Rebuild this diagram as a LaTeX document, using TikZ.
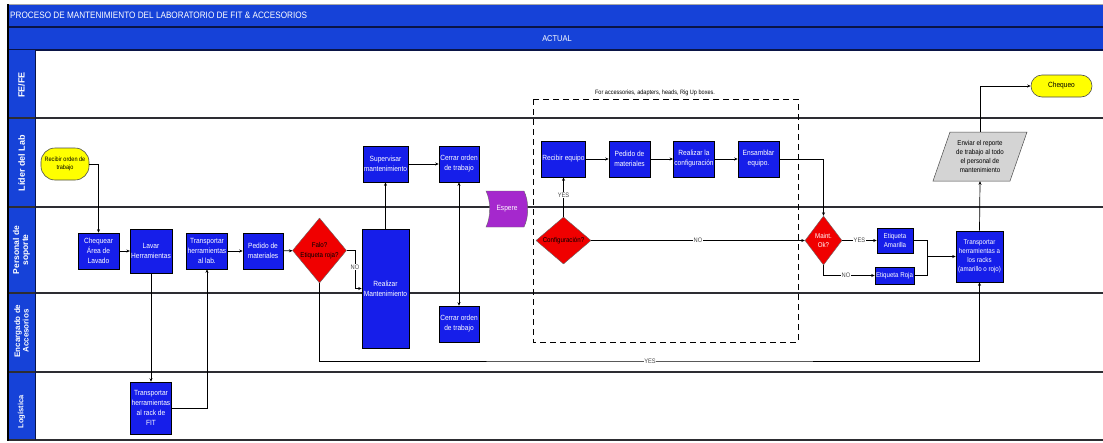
\documentclass[tikz,border=0pt]{standalone}
\usepackage{fontspec}
\setmainfont{Liberation Sans}
\newfontfamily\narrowsf[FakeStretch=0.88]{Liberation Sans}
\usetikzlibrary{arrows.meta,shapes.geometric}
\definecolor{barblue}{RGB}{22,66,216}
\definecolor{boxblue}{RGB}{22,30,234}
\definecolor{lanedark}{RGB}{45,45,50}
\definecolor{navyline}{RGB}{10,20,70}
\definecolor{decred}{RGB}{240,0,0}
\definecolor{termyellow}{RGB}{255,255,0}
\definecolor{waitpurple}{RGB}{165,40,205}
\definecolor{docgray}{RGB}{212,212,212}
\definecolor{lblgray}{RGB}{70,70,70}

\tikzset{
  box/.style={draw=black, line width=0.6pt, fill=boxblue, text=white,
    align=center, inner sep=1pt, font=\narrowsf\fontsize{7.5}{10}\selectfont},
  decision/.style={diamond, draw=black!60, line width=0.4pt, fill=decred,
    align=center, inner sep=0pt, font=\narrowsf\fontsize{7}{9.5}\selectfont},
  term/.style={draw=black!70, line width=0.6pt, fill=termyellow,
    align=center, inner sep=1pt, font=\narrowsf\fontsize{6.3}{8}\selectfont},
  conn/.style={draw=black, line width=0.7pt, -{Stealth[length=3.5pt,width=3pt]}},
  connboth/.style={draw=black, line width=0.7pt,
    {Stealth[length=3.5pt,width=3pt]}-{Stealth[length=3.5pt,width=3pt]}},
  plain/.style={draw=black, line width=0.7pt},
  lbl/.style={fill=white, inner sep=0.5pt, text=lblgray,
    font=\narrowsf\fontsize{6.5}{7.5}\selectfont},
  lanelabel/.style={rotate=90, text=white, align=center,
    font=\bfseries\fontsize{8.5}{9}\selectfont},
  laneline/.style={draw=lanedark, line width=1.3pt}
}

\begin{document}
\begin{tikzpicture}[x=1pt,y=-1pt]
\useasboundingbox (0,0) rectangle (1103,442);
\fill[white] (0,0) rectangle (1103,442);

% ---------- header bars ----------
\fill[barblue] (8,4) rectangle (1103,50);
\draw[gray!70, line width=0.8pt] (8,4) -- (1103,4);
\draw[navyline, line width=1.3pt] (8,27) -- (1103,27);
\draw[navyline, line width=1.3pt] (8,50) -- (1103,50);
\node[anchor=west, text=white, inner sep=0pt,
  font=\narrowsf\fontsize{9.3}{11}\selectfont] (title) at (10,15.5)
  {PROCESO DE MANTENIMIENTO DEL LABORATORIO DE FIT \& ACCESORIOS};
\node[text=white, inner sep=0pt, font=\narrowsf\fontsize{8.5}{10}\selectfont]
  (actual) at (557,39) {ACTUAL};

% ---------- swimlanes ----------
\fill[barblue] (8,50) rectangle (35,440);
\draw[laneline] (8,118) -- (1103,118);
\draw[laneline] (8,207) -- (1103,207);
\draw[laneline] (8,293) -- (1103,293);
\draw[laneline] (8,372) -- (1103,372);
\draw[laneline] (8,440) -- (1103,440);
\draw[navyline, line width=0.8pt] (35,50) -- (35,440);
\draw[black, line width=2pt] (8,4) -- (8,441);

\node[lanelabel, font=\bfseries\fontsize{9}{9.5}\selectfont] (laneFE) at (21.5,85) {FE/FE};
\node[lanelabel, font=\bfseries\fontsize{9}{9.5}\selectfont] (laneLid) at (21.5,163) {Líder del Lab};
\node[lanelabel] (lanePer) at (21.5,250) {Personal de\\soporte};
\node[lanelabel, font=\bfseries\fontsize{8}{8.5}\selectfont]
  (laneEnc) at (21.5,331) {Encargado de\\Accesorios};
\node[lanelabel, font=\bfseries\fontsize{7.5}{8}\selectfont] (laneLog) at (21.5,412) {Logística};

% ---------- dashed group ----------
\draw[black, line width=1pt, dash pattern=on 6pt off 4pt] (533,99) rectangle (798,342);
\node[inner sep=0pt, font=\narrowsf\fontsize{6.3}{7}\selectfont] (grouplbl) at (655,93)
  {For accessories, adapters, heads, Rig Up boxes.};

% ---------- left part of the process ----------
\node[term, minimum width=48pt, minimum height=32pt, rounded corners=14pt] (recorden)
  at (65,164) {Recibir orden de\\trabajo};
\node[box, minimum width=41pt, minimum height=36pt] (chequear) at (98.5,251)
  {Chequear\\Área de\\Lavado};
\node[box, minimum width=40pt, minimum height=44pt] (lavar) at (151,251)
  {Lavar\\Herramientas};
\node[box, minimum width=40pt, minimum height=36pt] (translab) at (207,251)
  {Transportar\\herramientas\\al lab.};
\node[box, minimum width=40pt, minimum height=36pt] (pedidoA) at (263,251)
  {Pedido de\\materiales};
\node[decision, minimum width=51pt, minimum height=65pt] (falo) at (319.5,250.5)
  {Falo?\\Etiqueta roja?};
\node[box, minimum width=40pt, minimum height=52pt] (transrack) at (151,408)
  {Transportar\\herramientas\\al rack de\\FIT};
\node[box, minimum width=47pt, minimum height=119pt] (realizar) at (385.5,288.5)
  {Realizar\\Mantenimiento};
\node[box, minimum width=45pt, minimum height=36pt] (supervisar) at (385.5,164)
  {Supervisar\\mantenimiento};
\node[box, minimum width=40pt, minimum height=36pt] (cerrarA) at (459,164)
  {Cerrar orden\\de trabajo};
\node[box, minimum width=40pt, minimum height=36pt] (cerrarB) at (459,324)
  {Cerrar orden\\de trabajo};

% wait state
\fill[waitpurple, draw=black!60, line width=0.4pt]
  (486,191) -- (524,191) .. controls (529,201) and (529,217) .. (524,227)
  -- (486,227) .. controls (491,217) and (491,201) .. (486,191) -- cycle;
\node[text=white, inner sep=0pt, minimum width=38pt, minimum height=36pt,
  font=\narrowsf\fontsize{7.5}{8}\selectfont] (espere) at (507,209) {Espere};

% ---------- accessories part ----------
\node[box, minimum width=41pt, minimum height=36pt] (recequipo) at (563.5,159)
  {Recibir equipo};
\node[box, minimum width=41pt, minimum height=36pt] (pedidoB) at (629.5,159)
  {Pedido de\\materiales};
\node[box, minimum width=40pt, minimum height=36pt] (realconf) at (694,159)
  {Realizar la\\configuración};
\node[box, minimum width=41pt, minimum height=36pt] (ensamblar) at (758.5,159)
  {Ensamblar\\equipo.};
\node[decision, minimum width=55pt, minimum height=47pt, shape aspect=1.2] (config)
  at (563.5,240.5) {Configuración?};
\node[decision, minimum width=37pt, minimum height=49pt, text=white] (maint) at (823.5,240.5)
  {Maint.\\Ok?};
\node[box, minimum width=36pt, minimum height=25pt,
  font=\narrowsf\fontsize{7}{8.5}\selectfont] (amarilla) at (895,240.5)
  {Etiqueta\\Amarilla};
\node[box, minimum width=39pt, minimum height=17pt,
  font=\narrowsf\fontsize{7}{8.5}\selectfont] (roja) at (894.5,275.5)
  {Etiqueta Roja};
\node[box, minimum width=47pt, minimum height=51pt,
  font=\narrowsf\fontsize{7}{9}\selectfont] (transracks) at (979.5,256.5)
  {Transportar\\herramientas a\\los racks\\(amarillo o rojo)};

% report document
\filldraw[fill=docgray, draw=black!70, line width=0.5pt]
  (950,132) -- (1027,132) -- (1010,181) -- (933,181) -- cycle;
\node[inner sep=0pt, minimum width=60pt, minimum height=49pt, align=center,
  font=\narrowsf\fontsize{7}{8.8}\selectfont] (enviar) at (980,156.5)
  {Enviar el reporte\\de trabajo al todo\\el personal de\\mantenimiento};
\node[term, minimum width=61pt, minimum height=22pt, rounded corners=11pt,
  font=\narrowsf\fontsize{7.5}{8}\selectfont] (chequeo) at (1061.5,86) {Chequeo};

% ---------- connectors ----------
\coordinate (noturn) at (355,250.5);
\coordinate (yesrow) at (650,361);
\coordinate (merge) at (927,256.5);

\draw[conn] (recorden.east) -| (chequear.north);
\draw[conn] (chequear) -- (lavar);
\draw[conn] (lavar.south) -- (transrack.north);
\draw[conn] (transrack.east) -| (translab.south);
\draw[conn] (translab) -- (pedidoA);
\draw[conn] (pedidoA) -- (falo);
\draw[conn] (falo.east) -- (noturn) |- (realizar.west);
\node[lbl] (labNO1) at (355,267) {NO};
\draw[conn] (falo.south) |- (yesrow) -| (transracks.south);
\node[lbl] (labYES1) at (yesrow) {YES};
\draw[conn] (realizar.north) -- (supervisar.south);
\draw[conn] (supervisar) -- (cerrarA);
\draw[connboth] (cerrarA.south) -- (cerrarB.north);

\draw[conn] (config.north) -- (recequipo.south)
  node[lbl, pos=0.55] (labYES2) {YES};
\draw[conn] (recequipo) -- (pedidoB);
\draw[conn] (pedidoB) -- (realconf);
\draw[conn] (realconf) -- (ensamblar);
\draw[conn] (ensamblar.east) -| (maint.north);
\draw[conn] (config.east) -- (maint.west) node[lbl, midway] (labNO2) {NO};
\draw[conn] (maint.east) -- (amarilla.west) node[lbl, midway] (labYES3) {YES};
\draw[conn] (maint.south) |- (roja.west) node[lbl, pos=0.72] (labNO3) {NO};
\draw[plain] (amarilla.east) -| (merge);
\draw[plain] (roja.east) -| (merge);
\draw[conn] (merge) -- (transracks.west);
\draw[conn] (transracks.north) -- (enviar.south);
\draw[conn] (enviar.north) |- (chequeo.west);
\end{tikzpicture}
\end{document}
